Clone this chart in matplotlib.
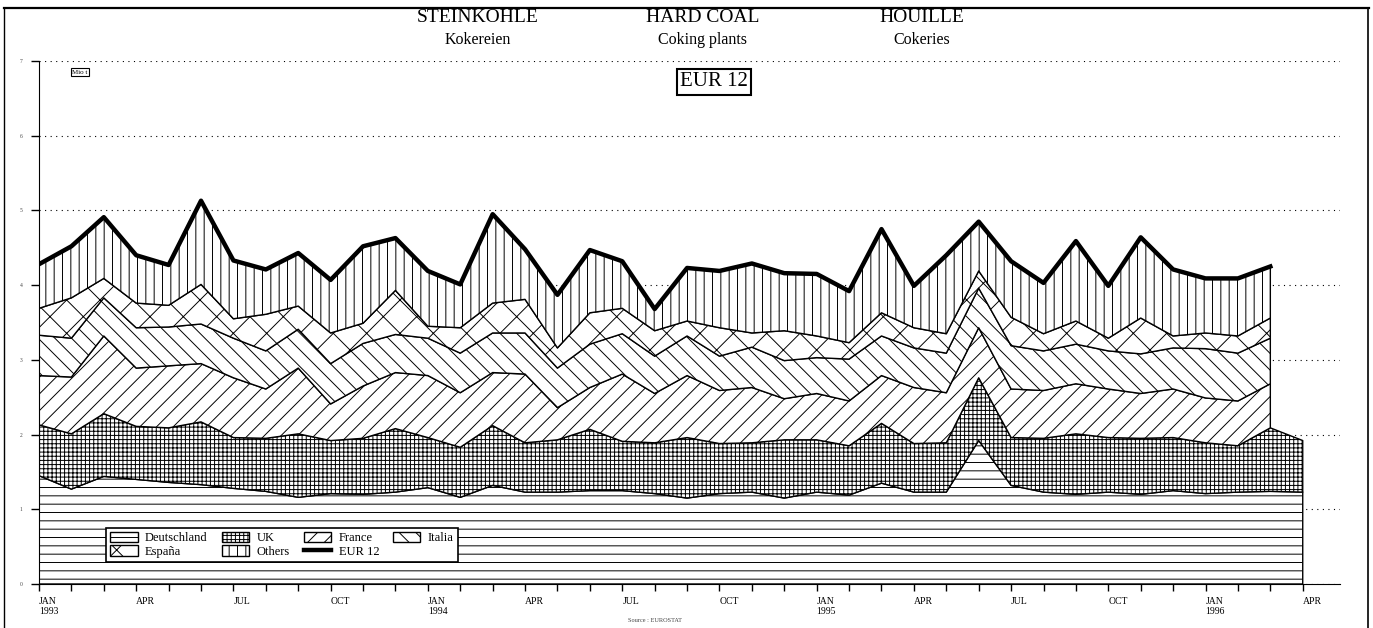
import numpy as np
import matplotlib
matplotlib.use('Agg')
import matplotlib.pyplot as plt
from matplotlib.lines import Line2D

plt.rcParams['font.family'] = ['Liberation Serif', 'DejaVu Serif']
plt.rcParams['hatch.linewidth'] = 0.7

# Mio t par mois, JAN 1993 - APR 1996 (Deutschland + UK ont aussi APR 1996)
deutschland = [1.45, 1.27, 1.44, 1.40, 1.36, 1.33, 1.28, 1.24, 1.16, 1.21,
               1.20, 1.23, 1.29, 1.16, 1.32, 1.23, 1.23, 1.25, 1.25, 1.21,
               1.15, 1.21, 1.23, 1.15, 1.23, 1.19, 1.35, 1.23, 1.23, 1.92,
               1.32, 1.23, 1.20, 1.23, 1.20, 1.25, 1.21, 1.23, 1.24, 1.23]
uk = [0.68, 0.74, 0.84, 0.71, 0.73, 0.84, 0.68, 0.71, 0.85, 0.71,
      0.75, 0.85, 0.67, 0.67, 0.80, 0.66, 0.70, 0.82, 0.66, 0.68,
      0.81, 0.67, 0.66, 0.78, 0.70, 0.66, 0.80, 0.65, 0.66, 0.84,
      0.64, 0.72, 0.81, 0.73, 0.75, 0.71, 0.68, 0.62, 0.85, 0.69]
france = [0.66, 0.76, 1.04, 0.78, 0.83, 0.78, 0.80, 0.66, 0.88, 0.49,
          0.70, 0.75, 0.83, 0.73, 0.71, 0.92, 0.43, 0.56, 0.90, 0.66,
          0.83, 0.71, 0.74, 0.55, 0.62, 0.60, 0.64, 0.75, 0.67, 0.67,
          0.65, 0.64, 0.67, 0.65, 0.60, 0.65, 0.60, 0.60, 0.59]
italia = [0.54, 0.52, 0.51, 0.54, 0.52, 0.53, 0.53, 0.51, 0.52, 0.54,
          0.57, 0.51, 0.50, 0.53, 0.53, 0.55, 0.53, 0.58, 0.54, 0.50,
          0.53, 0.46, 0.54, 0.51, 0.48, 0.56, 0.53, 0.53, 0.53, 0.53,
          0.58, 0.53, 0.53, 0.51, 0.53, 0.55, 0.66, 0.64, 0.61]
espana = [0.36, 0.54, 0.26, 0.33, 0.29, 0.53, 0.26, 0.49, 0.31, 0.41,
          0.27, 0.59, 0.16, 0.34, 0.40, 0.45, 0.27, 0.42, 0.34, 0.34,
          0.20, 0.38, 0.19, 0.40, 0.29, 0.22, 0.31, 0.27, 0.26, 0.23,
          0.38, 0.23, 0.31, 0.17, 0.48, 0.16, 0.21, 0.23, 0.27]
others = [0.59, 0.69, 0.82, 0.64, 0.54, 1.12, 0.78, 0.60, 0.71, 0.71,
          1.03, 0.70, 0.74, 0.58, 1.19, 0.67, 0.71, 0.84, 0.63, 0.29,
          0.71, 0.76, 0.93, 0.77, 0.83, 0.69, 1.12, 0.56, 1.05, 0.66,
          0.75, 0.68, 1.07, 0.70, 1.08, 0.89, 0.73, 0.77, 0.69]

tick_labels = ['JAN\n1993', 'APR', 'JUL', 'OCT', 'JAN\n1994', 'APR', 'JUL', 'OCT',
               'JAN\n1995', 'APR', 'JUL', 'OCT', 'JAN\n1996', 'APR']

months = np.arange(len(deutschland))
n = len(france)
x = months[:n]

de_top = np.array(deutschland)
uk_top = de_top + np.array(uk)
fr_top = uk_top[:n] + np.array(france)
it_top = fr_top + np.array(italia)
es_top = it_top + np.array(espana)
eur12 = es_top + np.array(others)

fig = plt.figure(figsize=(13.73, 6.28), dpi=100)
ax = fig.add_axes([39 / 1373, 44 / 628, (1340 - 39) / 1373, 523 / 628])

kw = dict(facecolor='white', edgecolor='black', linewidth=1.0, zorder=2)
h_de = ax.fill_between(months, 0, de_top, hatch='--', label='Deutschland', **kw)
h_uk = ax.fill_between(months, de_top, uk_top, hatch='++++', label='UK', **kw)
h_fr = ax.fill_between(x, uk_top[:n], fr_top, hatch='//', label='France', **kw)
h_it = ax.fill_between(x, fr_top, it_top, hatch='\\\\', label='Italia', **kw)
h_es = ax.fill_between(x, it_top, es_top, hatch='x', label='España', **kw)
h_ot = ax.fill_between(x, es_top, eur12, hatch='||', label='Others', **kw)
h_eur, = ax.plot(x, eur12, color='black', lw=3.2, label='EUR 12', zorder=3)

ax.set_xlim(0, 40.15)
ax.set_ylim(0, 7)
ax.set_yticks(range(0, 8))
ax.set_yticklabels([str(v) for v in range(0, 8)], fontsize=4, color='#444444')
ax.set_xticks(range(0, 40, 3))
ax.set_xticklabels(tick_labels, fontsize=7, ha='left')
ax.set_xticks(months, minor=True)
ax.tick_params(axis='x', which='both', direction='out', length=5, width=1, pad=4)
ax.tick_params(axis='y', direction='out', length=6, width=1, pad=6)
ax.spines['top'].set_visible(False)
ax.spines['right'].set_visible(False)
ax.yaxis.grid(True, linestyle=(0, (1, 4)), color='black', lw=0.8)
ax.set_axisbelow(True)

leg = ax.legend([h_de, h_es, h_uk, h_ot, h_fr, h_eur, h_it],
                ['Deutschland', 'España', 'UK', 'Others', 'France', 'EUR 12', 'Italia'],
                ncol=4, loc='lower left', bbox_to_anchor=(0.047, 0.031),
                fontsize=9, frameon=True, fancybox=False, framealpha=1,
                edgecolor='black', handlelength=2.2, handleheight=0.9,
                labelspacing=0.1, columnspacing=1.1, borderpad=0.3, handletextpad=0.6)
leg.get_frame().set_linewidth(1.2)

# titres
for xp, t1, t2 in [(478, 'STEINKOHLE', 'Kokereien'),
                   (703, 'HARD COAL', 'Coking plants'),
                   (922, 'HOUILLE', 'Cokeries')]:
    fig.text(xp / 1373, 1 - 18 / 628, t1, ha='center', va='center', fontsize=14)
    fig.text(xp / 1373, 1 - 40 / 628, t2, ha='center', va='center', fontsize=11.5)

fig.text(714 / 1373, 1 - 82 / 628, 'EUR 12', ha='center', va='center', fontsize=15,
         bbox=dict(boxstyle='square,pad=0.15', fc='white', ec='black', lw=1.5))
fig.text(80 / 1373, 1 - 72 / 628, 'Mio t', ha='center', va='center', fontsize=5,
         bbox=dict(boxstyle='square,pad=0.2', fc='white', ec='black', lw=0.8))
fig.text(655 / 1373, 1 - 621 / 628, 'Source : EUROSTAT', ha='center', va='center',
         fontsize=4.5, color='#444444')

# cadre
fig.add_artist(Line2D([0.003, 0.997], [0.987, 0.987], transform=fig.transFigure,
                      color='black', lw=1.6))
fig.add_artist(Line2D([0.003, 0.003], [0, 0.987], transform=fig.transFigure,
                      color='black', lw=1.0))
fig.add_artist(Line2D([0.9965, 0.9965], [0, 0.987], transform=fig.transFigure,
                      color='black', lw=1.2))

fig.savefig('out.png', dpi=100)
